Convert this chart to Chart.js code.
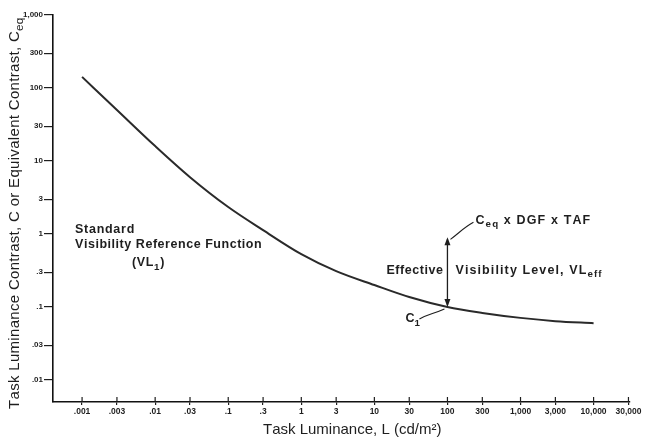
<!DOCTYPE html>
<html>
<head>
<meta charset="utf-8">
<script src="https://cdn.jsdelivr.net/npm/chart.js@4/dist/chart.umd.min.js"></script>
<style>
  html, body { margin: 0; padding: 0; background: #fff; }
  #wrap { width: 649px; height: 440px; position: relative; }
</style>
</head>
<body>
<div id="wrap"><canvas id="c"></canvas></div>
<script>
// Standard visibility reference function: task luminance (cd/m²) vs contrast
const luminance = [0.001, 0.003, 0.01, 0.03, 0.1, 0.3, 1, 3, 10, 30, 100, 300, 1000, 3000, 10000];
const contrast  = [142, 50, 16.0, 6.0, 2.34, 1.13, 0.53, 0.31, 0.20, 0.137, 0.100, 0.083, 0.071, 0.064, 0.060];

// Axis ticks
const xTickValues = [0.001, 0.003, 0.01, 0.03, 0.1, 0.3, 1, 3, 10, 30, 100, 300, 1000, 3000, 10000, 30000];
const xTickLabels = ['.001', '.003', '.01', '.03', '.1', '.3', '1', '3', '10', '30', '100', '300', '1,000', '3,000', '10,000', '30,000'];
const yTickValues = [0.01, 0.03, 0.1, 0.3, 1, 3, 10, 30, 100, 300, 1000];
const yTickLabels = ['.01', '.03', '.1', '.3', '1', '3', '10', '30', '100', '300', '1,000'];

// Effective visibility level marker: at L = 100, from C1 up to Ceq x DGF x TAF
const vlLuminance = [100];
const vlContrast  = [0.1, 0.9];

const INK = '#1e1e1e';
const FONT = '"Liberation Sans", Arial, Helvetica, sans-serif';

function setFont(ctx, size, weight) { ctx.font = `${weight} ${size}px ${FONT}`; }

// total width of a list of text runs (subscript runs are smaller)
function runsWidth(ctx, runs, size, weight) {
  ctx.letterSpacing = '0px';
  let w = 0;
  runs.forEach(r => { setFont(ctx, r.sub ? size * 0.78 : size, weight); w += ctx.measureText(r.t).width; });
  return w;
}

// draw text runs from x, spreading the letters so the whole thing spans `span` px
function richText(ctx, runs, x, y, size, weight, span) {
  const chars = runs.reduce((n, r) => n + r.t.length, 0);
  const natural = runsWidth(ctx, runs, size, weight);
  const gap = span ? Math.max(0, (span - natural) / chars) : 0;
  let cx = x;
  runs.forEach(r => {
    const s = r.sub ? size * 0.78 : size;
    setFont(ctx, s, weight);
    ctx.letterSpacing = '0px';
    for (const ch of r.t) {
      ctx.fillText(ch, cx, y + (r.sub ? size * 0.32 : 0));
      cx += ctx.measureText(ch).width + gap;
    }
  });
  return cx - x;
}

function squiggle(ctx, x0, y0, x1, y1) {
  const dx = x1 - x0, dy = y1 - y0;
  ctx.beginPath();
  ctx.moveTo(x0, y0);
  ctx.bezierCurveTo(x0 + dx * 0.35, y0 + dy * 0.1 - 4, x0 + dx * 0.55, y0 + dy * 0.9 + 4, x1, y1);
  ctx.stroke();
}
function arrowHead(ctx, x, y, dir) {
  ctx.beginPath();
  ctx.moveTo(x, y);
  ctx.lineTo(x - 3, y - dir * 8);
  ctx.lineTo(x + 3, y - dir * 8);
  ctx.closePath();
  ctx.fill();
}

const annotations = {
  id: 'annotations',
  afterDraw(chart) {
    const { ctx, scales: { x, y }, chartArea } = chart;
    ctx.save();
    ctx.fillStyle = INK;
    ctx.strokeStyle = INK;
    ctx.textBaseline = 'middle';
    ctx.textAlign = 'left';

    // inward half of the x tick marks
    ctx.lineWidth = 1.2;
    xTickValues.forEach(v => {
      const px = x.getPixelForValue(v);
      ctx.beginPath();
      ctx.moveTo(px, chartArea.bottom);
      ctx.lineTo(px, chartArea.bottom - 5);
      ctx.stroke();
    });

    // double-headed VLeff arrow
    const ax = x.getPixelForValue(vlLuminance[0]);
    const yb = y.getPixelForValue(vlContrast[0]);
    const yt = y.getPixelForValue(vlContrast[1]);
    ctx.lineWidth = 1.3;
    ctx.beginPath();
    ctx.moveTo(ax, yb - 2);
    ctx.lineTo(ax, yt + 2);
    ctx.stroke();
    arrowHead(ctx, ax, yt, -1);
    arrowHead(ctx, ax, yb, 1);

    // leaders
    ctx.lineWidth = 1.1;
    squiggle(ctx, ax + 3, yt + 2, ax + 26, yt - 15);
    squiggle(ctx, ax - 28, yb + 12, ax - 3, yb + 2);

    richText(ctx, [{ t: 'C' }, { t: 'eq', sub: true }, { t: ' x DGF x TAF' }], ax + 28, yt - 17, 12.5, 'bold', 115);
    richText(ctx, [{ t: 'Effective' }], ax - 61, yt + 33, 12.5, 'bold', 57);
    richText(ctx, [{ t: 'Visibility Level, VL' }, { t: 'eff', sub: true }], ax + 8, yt + 33, 12.5, 'bold', 147);
    richText(ctx, [{ t: 'C' }, { t: '1', sub: true }], ax - 42, yb + 12, 12.5, 'bold', 0);

    // curve label
    richText(ctx, [{ t: 'Standard' }], 75, 230, 12.5, 'bold', 60);
    richText(ctx, [{ t: 'Visibility Reference Function' }], 75, 245, 12.5, 'bold', 187);
    richText(ctx, [{ t: '(VL' }, { t: '1', sub: true }, { t: ')' }], 132, 263, 12.5, 'bold', 33);

    // axis titles
    const yTitle = [{ t: 'Task Luminance Contrast, C or Equivalent Contrast, C' }, { t: 'eq', sub: true }];
    ctx.save();
    ctx.translate(15, 213);
    ctx.rotate(-Math.PI / 2);
    richText(ctx, yTitle, -196, 0, 15, 'normal', 390);
    ctx.restore();

    richText(ctx, [{ t: 'Task Luminance, L (cd/m²)' }], 263, 430, 15, 'normal', 174);
    ctx.restore();
  }
};

new Chart(document.getElementById('c'), {
  type: 'line',
  data: {
    datasets: [{
      data: luminance.map((l, i) => ({ x: l, y: contrast[i] })),
      borderColor: '#2a2a2a',
      borderWidth: 2,
      pointRadius: 0,
      cubicInterpolationMode: 'monotone',
      fill: false
    }]
  },
  options: {
    responsive: true,
    maintainAspectRatio: false,
    animation: false,
    devicePixelRatio: 1,
    layout: { padding: { top: 15, right: 19, left: 0, bottom: 0 } },
    plugins: { legend: { display: false }, tooltip: { enabled: false } },
    scales: {
      x: {
        type: 'logarithmic',
        bounds: 'data',
        min: 0.0004,
        max: 31500,
        afterBuildTicks: s => { s.ticks = xTickValues.map(v => ({ value: v })); },
        afterFit: s => { s.height = 38; },
        ticks: {
          autoSkip: false,
          maxRotation: 0,
          padding: 2,
          color: INK,
          font: { family: FONT, size: 8.5, weight: 'bold' },
          callback: v => xTickLabels[xTickValues.indexOf(v)]
        },
        grid: { drawOnChartArea: false, drawTicks: true, tickLength: 3, color: INK, lineWidth: 1.2 },
        border: { color: '#111', width: 1.6 }
      },
      y: {
        type: 'logarithmic',
        bounds: 'data',
        min: 0.005,
        max: 1000,
        afterBuildTicks: s => { s.ticks = yTickValues.map(v => ({ value: v })); },
        afterFit: s => { s.width = 53; },
        ticks: {
          autoSkip: false,
          padding: 1,
          color: INK,
          font: { family: FONT, size: 8, weight: 'bold' },
          callback: v => yTickLabels[yTickValues.indexOf(v)]
        },
        grid: { drawOnChartArea: false, drawTicks: true, tickLength: 9, color: INK, lineWidth: 1.2 },
        border: { color: '#111', width: 1.6 }
      }
    }
  },
  plugins: [annotations]
});
</script>
</body>
</html>
